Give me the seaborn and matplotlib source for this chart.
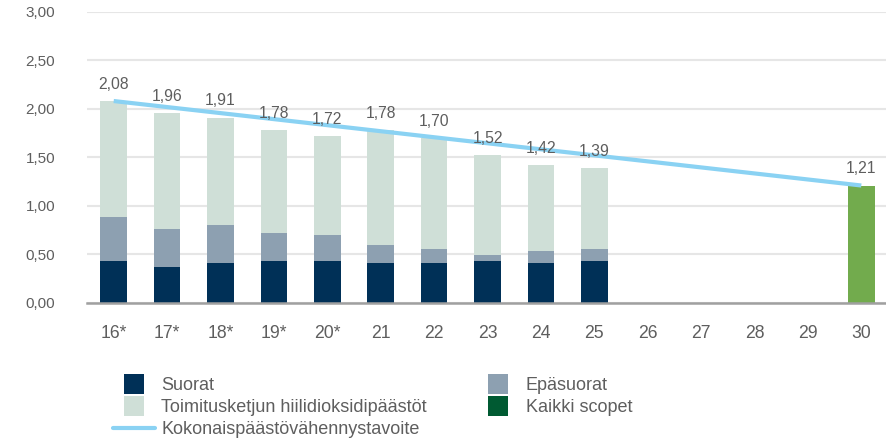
import numpy as np
import pandas as pd
import matplotlib
matplotlib.use("Agg")
import matplotlib.pyplot as plt
from matplotlib.lines import Line2D
import seaborn as sns

# ---- data ----
categories = ["16*", "17*", "18*", "19*", "20*", "21", "22", "23", "24", "25",
              "26", "27", "28", "29", "30"]
suorat = [0.43, 0.37, 0.41, 0.43, 0.43, 0.41, 0.41, 0.43, 0.41, 0.43,
          np.nan, np.nan, np.nan, np.nan, np.nan]
epasuorat = [0.455, 0.39, 0.39, 0.29, 0.27, 0.19, 0.145, 0.06, 0.125, 0.125,
             np.nan, np.nan, np.nan, np.nan, np.nan]
totals = [2.08, 1.96, 1.91, 1.78, 1.72, 1.78, 1.70, 1.52, 1.42, 1.39,
          np.nan, np.nan, np.nan, np.nan, np.nan]
kaikki_scopet = [np.nan] * 14 + [1.21]
target_years = ["16*", "30"]
target_values = [2.08, 1.21]

label_names = ["Suorat", "Epäsuorat", "Toimitusketjun hiilidioksidipäästöt",
               "Kaikki scopet", "Kokonaispäästövähennystavoite"]

C_SUORAT = "#003057"
C_EPA = "#8DA0B1"
C_TOIM = "#CFDFD7"
C_GREEN_BAR = "#72AB4D"
C_GREEN_LEG = "#005A32"
C_LINE = "#8AD2F3"
TXT = "#5E5E5E"

sns.set_theme(style="white")
plt.rcParams["font.family"] = ["Liberation Sans", "DejaVu Sans"]

df = pd.DataFrame({
    "cat": categories,
    "suorat": suorat,
    "epa": epasuorat,
    "total": totals,
    "kaikki": kaikki_scopet,
})
df["lower2"] = df["suorat"] + df["epa"]

fig = plt.figure(figsize=(8.86, 4.41), dpi=100)
ax = fig.add_axes([87 / 886, 1 - 303 / 441, (888 - 87) / 886, (303 - 11.7) / 441])

common = dict(x="cat", order=categories, width=0.5, ax=ax, errorbar=None,
              saturation=1, linewidth=0)
sns.barplot(data=df, y="total", color=C_TOIM, **common)
sns.barplot(data=df, y="lower2", color=C_EPA, **common)
sns.barplot(data=df, y="suorat", color=C_SUORAT, **common)
sns.barplot(data=df, y="kaikki", color=C_GREEN_BAR, **common)

# target line
tx = [categories.index(c) for c in target_years]
sns.lineplot(x=tx, y=target_values, ax=ax, color=C_LINE, linewidth=3.0,
             solid_capstyle="butt")

# data labels
for i, (t, k) in enumerate(zip(totals, kaikki_scopet)):
    v = t if not np.isnan(t) else k
    if np.isnan(v):
        continue
    ax.annotate(f"{v:.2f}".replace(".", ","), (i, v), xytext=(0, 12),
                textcoords="offset points", ha="center", va="center",
                fontsize=11.3, color=TXT)

ax.set_xlim(-0.5, len(categories) - 0.5)
ax.set_ylim(0, 3.0)
ax.set_yticks(np.arange(0, 3.01, 0.5))
ax.set_yticklabels([f"{v:.2f}".replace(".", ",") for v in np.arange(0, 3.01, 0.5)])
ax.set_xlabel("")
ax.set_ylabel("")
ax.tick_params(axis="y", length=0, pad=23, labelsize=11, labelcolor=TXT)
ax.tick_params(axis="x", length=0, pad=16, labelsize=12.7, labelcolor=TXT)
ax.yaxis.grid(True, color="#E6E6E6", linewidth=1.5)
ax.set_axisbelow(True)
for s in ["left", "right", "top"]:
    ax.spines[s].set_visible(False)
ax.spines["bottom"].set_color("#A0A0A0")
ax.spines["bottom"].set_linewidth(1.8)

def sq(c):
    return Line2D([], [], marker="s", linestyle="none", markersize=13.7,
                  markerfacecolor=c, markeredgewidth=0)

h1 = [sq(C_SUORAT), sq(C_TOIM), Line2D([], [], color=C_LINE, linewidth=3.0)]
l1 = [label_names[0], label_names[2], label_names[4]]
h2 = [sq(C_EPA), sq(C_GREEN_LEG)]
l2 = [label_names[1], label_names[3]]
leg_kw = dict(loc="upper left", frameon=False, fontsize=13, borderpad=0,
              handlelength=2.3, handletextpad=0.38, labelspacing=0.29,
              labelcolor=TXT, borderaxespad=0)
fig.legend(h1, l1, bbox_to_anchor=(113 / 886, 1 - 377 / 441), **leg_kw)
fig.legend(h2, l2, bbox_to_anchor=(477.5 / 886, 1 - 377 / 441), **leg_kw)

fig.savefig("out.png", dpi=100)
